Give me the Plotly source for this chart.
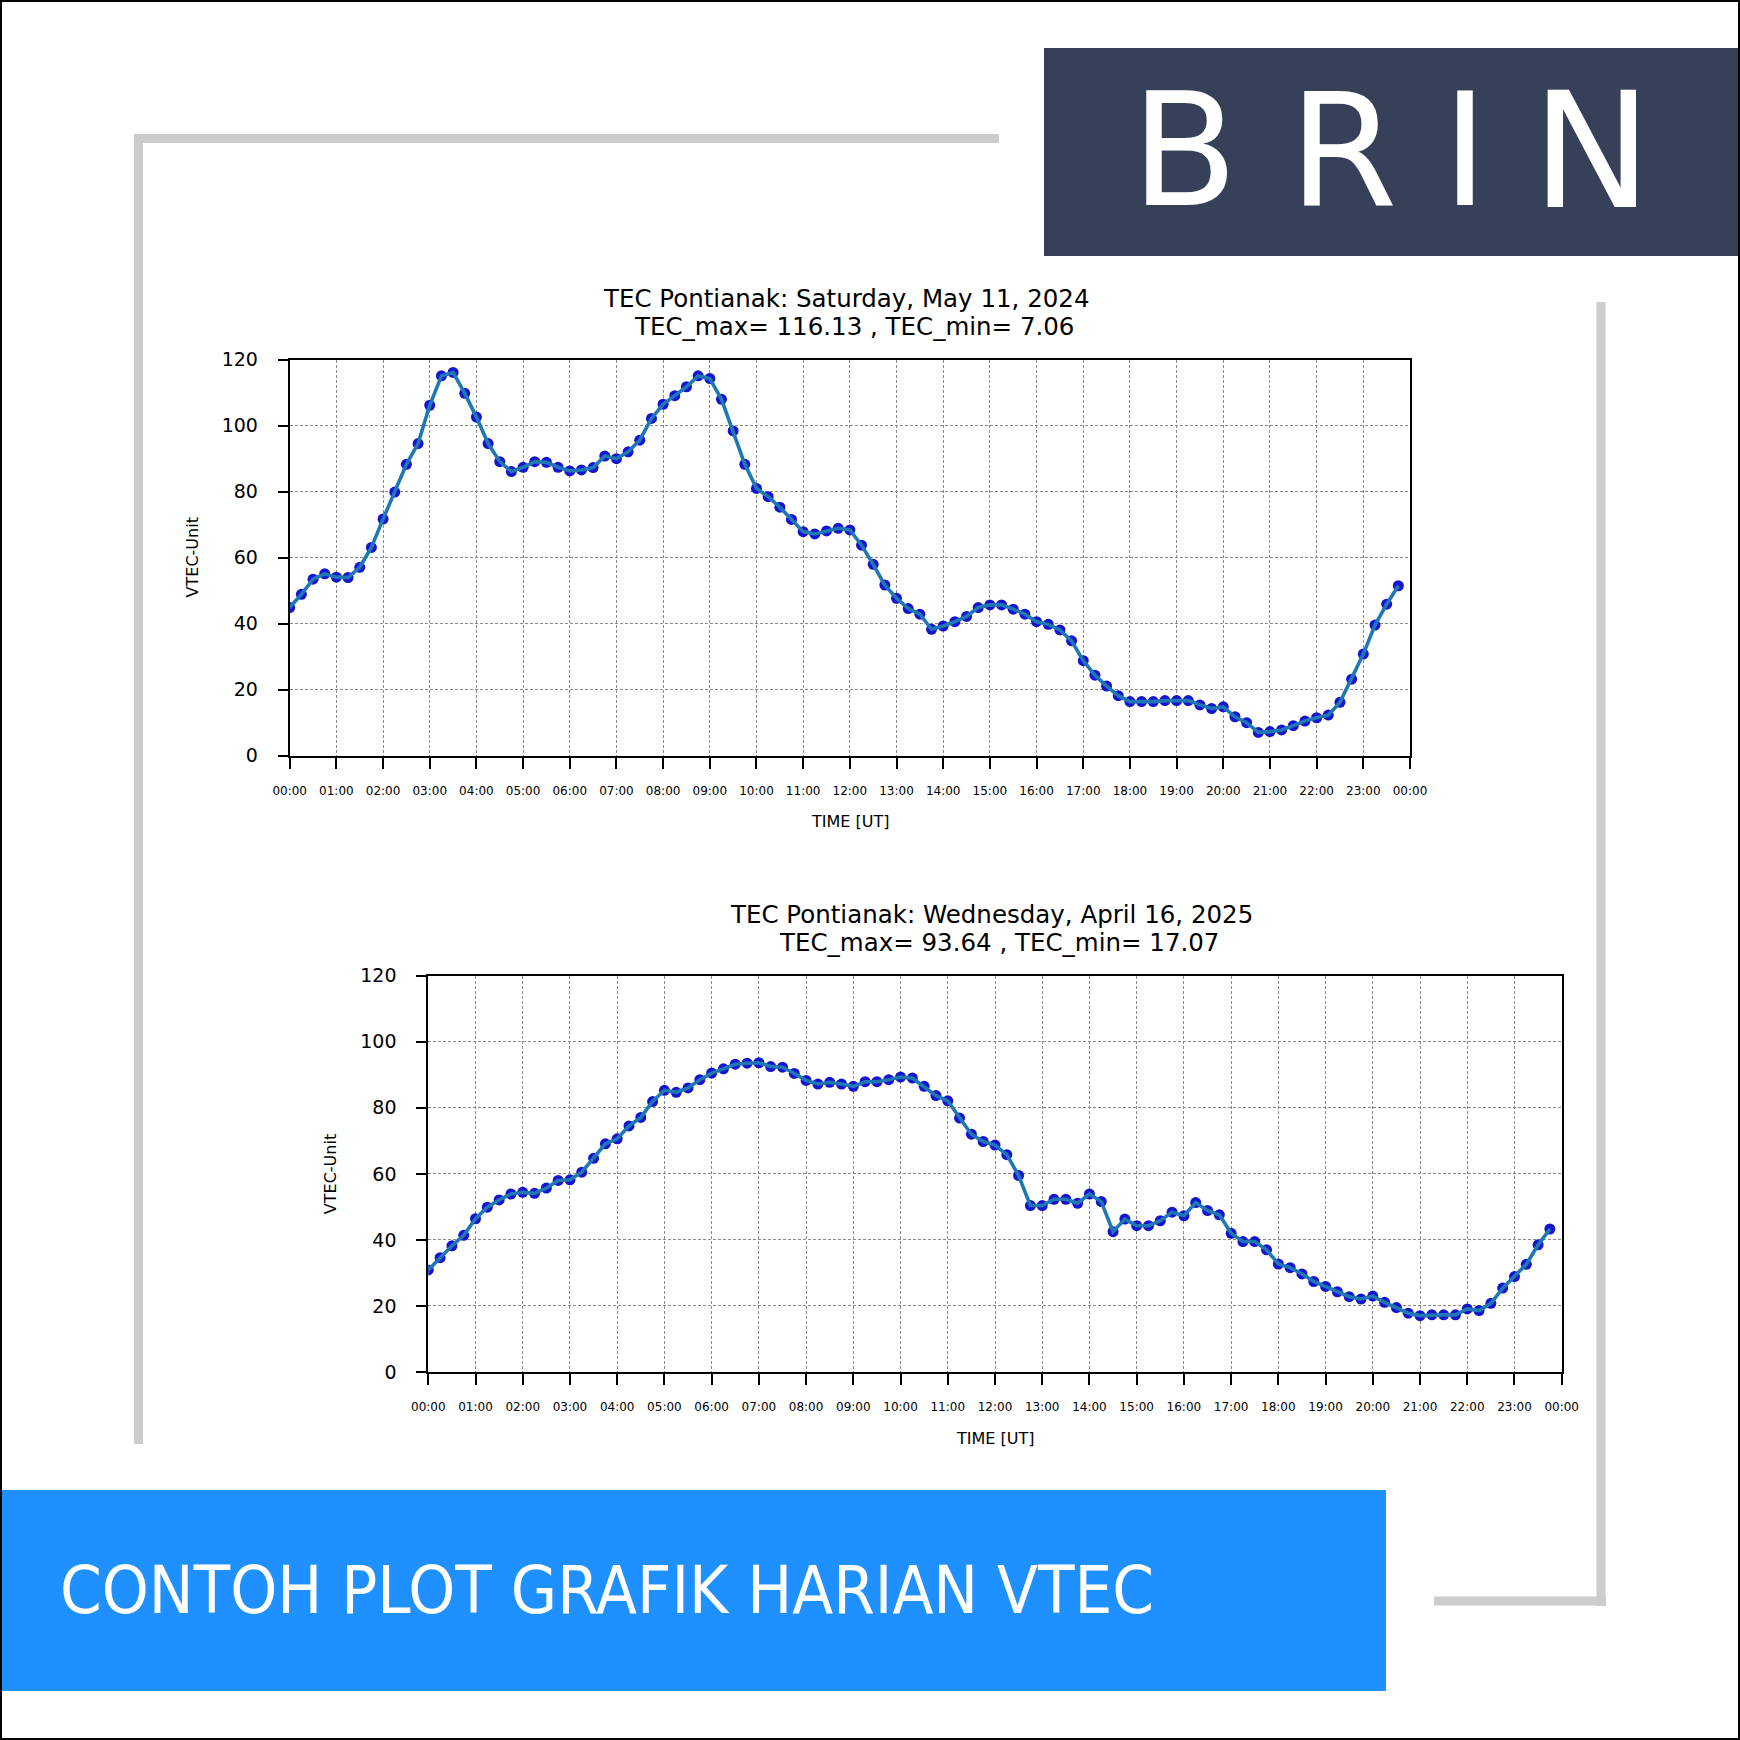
import plotly.graph_objects as go

W = H = 1740

# ---------------- data ----------------
time_labels = ["%02d:%02d" % (h, m) for h in range(24) for m in (0, 15, 30, 45)]
hours = [int(t[:2]) + int(t[3:]) / 60 for t in time_labels]

tec_2024_05_11 = [
    44.9, 48.9, 53.5, 55.1, 54.1, 54.0, 57.1, 63.1,
    71.7, 79.9, 88.3, 94.6, 106.2, 115.1, 116.13, 109.8,
    102.6, 94.6, 89.1, 86.1, 87.4, 89.1, 88.9, 87.4,
    86.3, 86.6, 87.3, 90.8, 90.0, 92.1, 95.6, 102.2,
    106.5, 109.1, 111.8, 115.1, 114.3, 108.0, 98.4, 88.3,
    81.0, 78.5, 75.3, 71.6, 67.9, 67.2, 68.1, 68.9,
    68.4, 63.8, 58.0, 51.7, 47.7, 44.6, 42.9, 38.3,
    39.3, 40.6, 42.2, 44.9, 45.7, 45.7, 44.4, 42.9,
    40.6, 39.8, 38.1, 34.8, 28.8, 24.4, 21.1, 18.2,
    16.4, 16.4, 16.4, 16.7, 16.7, 16.7, 15.4, 14.3,
    14.8, 11.8, 10.0, 7.06, 7.3, 7.8, 9.1, 10.5,
    11.5, 12.3, 16.2, 23.2, 30.8, 39.6, 45.9, 51.5,
]

tec_2025_04_16 = [
    30.9, 34.6, 38.2, 41.4, 46.4, 49.9, 52.1, 53.9,
    54.4, 54.1, 55.7, 58.0, 58.2, 60.5, 64.7, 69.1,
    70.6, 74.5, 77.1, 81.9, 85.3, 84.7, 86.0, 88.5,
    90.5, 91.8, 93.2, 93.5, 93.64, 92.5, 92.3, 90.4,
    88.3, 87.2, 87.7, 87.2, 86.5, 87.9, 87.9, 88.5,
    89.3, 89.0, 86.5, 83.7, 82.1, 76.9, 72.0, 69.8,
    68.7, 65.8, 59.5, 50.4, 50.4, 52.3, 52.3, 51.1,
    53.9, 51.6, 42.5, 46.3, 44.3, 44.3, 45.8, 48.4,
    47.3, 51.3, 48.9, 47.6, 42.0, 39.5, 39.5, 37.0,
    32.7, 31.6, 29.7, 27.4, 25.9, 24.3, 22.8, 22.1,
    23.0, 21.1, 19.5, 17.8, 17.07, 17.3, 17.3, 17.3,
    19.1, 18.6, 20.8, 25.4, 28.9, 32.6, 38.5, 43.3,
]

tick_hours = list(range(25))
tick_text = ["%02d:00" % (h % 24) for h in tick_hours]
y_ticks = [0, 20, 40, 60, 80, 100, 120]

title_lines = [
    ("TEC Pontianak: Saturday, May 11, 2024", "TEC_max= 116.13 , TEC_min= 7.06"),
    ("TEC Pontianak: Wednesday, April 16, 2025", "TEC_max= 93.64 , TEC_min= 17.07"),
]
x_title = "TIME [UT]"
y_title = "VTEC-Unit"
banner_text = "CONTOH PLOT GRAFIK HARIAN VTEC"
logo_letters = ["B", "R", "I", "N"]

# ---------------- helpers ----------------
def px(x):
    return x / W


def py(y):
    return 1 - y / H


# plot areas in pixels (left, right, top, bottom)
areas = [
    (289.7, 1410.0, 359.7, 755.7),
    (428.3, 1561.7, 975.7, 1372.0),
]
series = [tec_2024_05_11, tec_2025_04_16]

FONT = "DejaVu Sans"
fig = go.Figure()

for i, (vals, (l, r, t, b)) in enumerate(zip(series, areas)):
    n = "" if i == 0 else str(i + 1)
    xa, ya = "x" + n, "y" + n
    fig.add_trace(go.Scatter(
        x=hours, y=vals, mode="markers", xaxis=xa, yaxis=ya,
        marker=dict(size=11, color="#0000cd", opacity=0.92, line=dict(width=0)),
        showlegend=False, hoverinfo="skip",
    ))
    fig.add_trace(go.Scatter(
        x=hours, y=vals, mode="lines", xaxis=xa, yaxis=ya,
        line=dict(color="#1f77b4", width=3.6),
        showlegend=False,
    ))
    axis_common = dict(
        showline=True, linecolor="black", linewidth=2, mirror=True,
        ticks="outside", tickcolor="black", tickwidth=2,
        showgrid=True, gridcolor="#8a8a8a", gridwidth=1, griddash="3px,2px",
        zeroline=False, fixedrange=True, automargin=False,
    )
    fig.update_layout(**{
        "xaxis" + n: dict(
            domain=[px(l), px(r)], anchor=ya, range=[0, 24],
            tickmode="array", tickvals=tick_hours, ticktext=tick_text,
            ticklen=11, ticklabelstandoff=12,
            tickfont=dict(family=FONT, size=12, color="black"),
            **axis_common,
        ),
        "yaxis" + n: dict(
            domain=[py(b), py(t)], anchor=xa, range=[0, 120],
            tickmode="array", tickvals=y_ticks,
            ticklen=10, ticklabelstandoff=16,
            tickfont=dict(family=FONT, size=19, color="black"),
            **axis_common,
        ),
    })
    cx = (l + r) / 2
    line1, line2 = title_lines[i]
    fig.add_annotation(
        x=px(cx - 4), y=py(t - 61), xref="paper", yref="paper",
        text=line1, showarrow=False, xanchor="center", yanchor="middle",
        font=dict(family=FONT, size=24.5, color="black"),
    )
    fig.add_annotation(
        x=px(cx + 4), y=py(t - 33), xref="paper", yref="paper",
        text=line2, showarrow=False, xanchor="center", yanchor="middle",
        font=dict(family=FONT, size=24.5, color="black"),
    )
    fig.add_annotation(
        x=px(cx), y=py(b + 66), xref="paper", yref="paper",
        text=x_title, showarrow=False, xanchor="center", yanchor="middle",
        font=dict(family=FONT, size=16, color="black"),
    )
    fig.add_annotation(
        x=px(l - 97), y=py((t + b) / 2), xref="paper", yref="paper",
        text=y_title, showarrow=False, xanchor="center", yanchor="middle",
        textangle=-90, font=dict(family=FONT, size=16, color="black"),
    )

shapes = []
gray = "#cccccc"
# gray frame, top-left L
shapes.append(dict(type="line", x0=px(134), x1=px(999), y0=py(138.5), y1=py(138.5),
                   line=dict(color=gray, width=9)))
shapes.append(dict(type="line", x0=px(138.5), x1=px(138.5), y0=py(134), y1=py(1444),
                   line=dict(color=gray, width=9)))
# gray frame, bottom-right L
shapes.append(dict(type="line", x0=px(1601), x1=px(1601), y0=py(302), y1=py(1606),
                   line=dict(color=gray, width=9)))
shapes.append(dict(type="line", x0=px(1434), x1=px(1606), y0=py(1601), y1=py(1601),
                   line=dict(color=gray, width=9)))
# navy logo box
shapes.append(dict(type="rect", x0=px(1044), x1=px(1740), y0=py(256), y1=py(48),
                   fillcolor="#364159", line=dict(width=0)))
# blue banner
shapes.append(dict(type="rect", x0=px(0), x1=px(1386), y0=py(1691), y1=py(1490),
                   fillcolor="#1e90ff", line=dict(width=0)))
# outer border
shapes.append(dict(type="rect", x0=px(1), x1=px(1739), y0=py(1739), y1=py(1),
                   line=dict(color="black", width=2), fillcolor="rgba(0,0,0,0)"))
for s in shapes:
    s.update(xref="paper", yref="paper")
fig.update_layout(shapes=shapes)

# logo letters
letter_x = [1184, 1343, 1465, 1592]
letter_sizes = [156, 156, 156, 160]
for ch, lx, fs in zip(logo_letters, letter_x, letter_sizes):
    fig.add_annotation(
        x=px(lx), y=py(151), xref="paper", yref="paper", text=ch,
        showarrow=False, xanchor="center", yanchor="middle",
        font=dict(family="DejaVu Sans", size=fs, color="white"),
    )

# banner text
fig.add_annotation(
    x=px(58), y=py(1590), xref="paper", yref="paper", text=banner_text,
    showarrow=False, xanchor="left", yanchor="middle",
    font=dict(family="DejaVu Sans Condensed, Liberation Sans Narrow, Roboto", size=66.5, color="white"),
)

fig.update_layout(
    width=W, height=H, margin=dict(l=0, r=0, t=0, b=0, pad=0, autoexpand=False),
    paper_bgcolor="white", plot_bgcolor="white", showlegend=False,
)

fig.write_html("out.html", post_script="document.body.style.margin='0';")
